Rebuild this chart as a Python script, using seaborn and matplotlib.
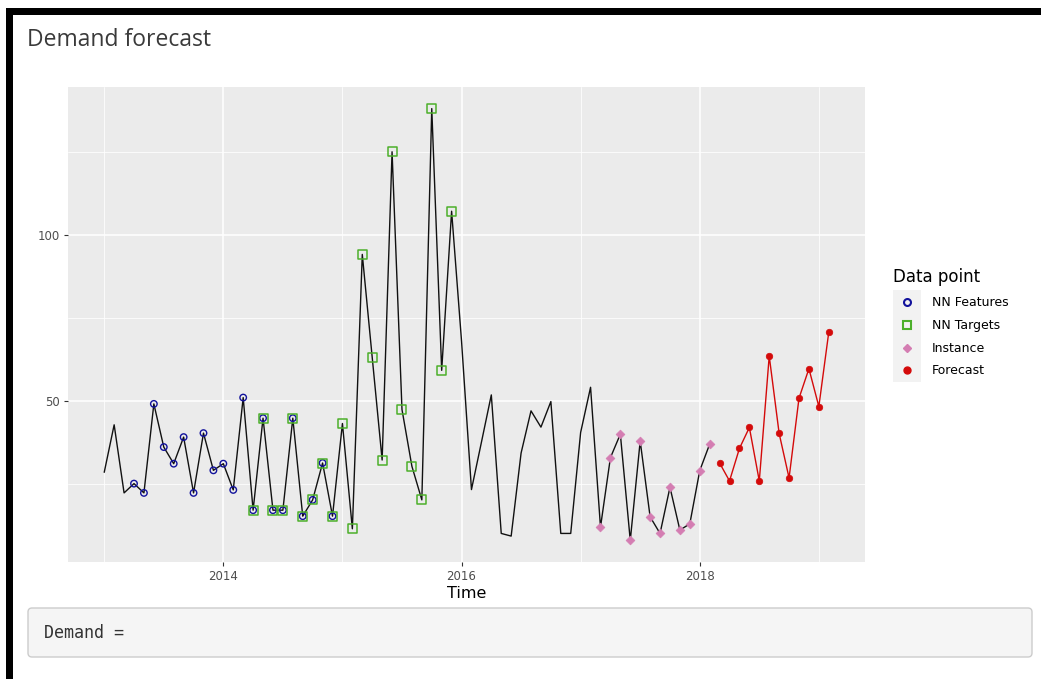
import numpy as np
import pandas as pd
import matplotlib
matplotlib.use("Agg")
import matplotlib.pyplot as plt
from matplotlib.patches import FancyBboxPatch, Rectangle
from matplotlib.lines import Line2D
import seaborn as sns

# Monthly demand, Jan 2013 - Feb 2018
start_year = 2013
demand = [
    28.5, 42.8, 22.3, 25.1, 22.3, 49.1, 36.1, 31.1, 39.1, 22.3, 40.3, 29.1,   # 2013
    31.1, 23.2, 51.0, 17.1, 44.8, 17.1, 17.1, 44.8, 15.3, 20.2, 31.3, 15.3,   # 2014
    43.2, 11.5, 94.1, 63.1, 32.2, 125.0, 47.4, 30.3, 20.2, 138.0, 59.2, 107.1,  # 2015
    68.0, 23.3, 37.5, 51.8, 10.1, 9.3, 34.3, 47.0, 42.1, 49.8, 10.1, 10.1,    # 2016
    40.5, 54.1, 12.0, 32.9, 40.0, 8.0, 37.9, 15.1, 10.1, 24.0, 11.1, 13.0,    # 2017
    29.0, 37.0,                                                                # 2018
]
# Forecast, Mar 2018 - Feb 2019
forecast = [31.3, 25.9, 35.7, 42.0, 25.9, 63.5, 40.2, 26.8, 50.8, 59.7, 48.3, 70.7]

# Positions (month index into `demand`) of the highlighted points
feature_months = list(range(3, 24))     # Apr 2013 - Dec 2014
target_months = list(range(15, 36))     # Apr 2014 - Dec 2015
instance_months = list(range(50, 62))   # Mar 2017 - Feb 2018

legend_labels = ["NN Features", "NN Targets", "Instance", "Forecast"]
x_ticks = [2014, 2016, 2018]
y_ticks = [50, 100]

C_FEAT = "#12129c"
C_TARG = "#4caf2a"
C_INST = "#d47db2"
C_FCST = "#d40a0a"

W, H = 1041, 679
sns.set_theme(style="darkgrid")
plt.rcParams["font.family"] = ["DejaVu Sans"]

fig = plt.figure(figsize=(W / 100, H / 100), dpi=100, facecolor="white")

# page decoration layer in pixel coordinates
deco = fig.add_axes([0, 0, 1, 1], zorder=0)
deco.set_xlim(0, W)
deco.set_ylim(H, 0)
deco.axis("off")
deco.add_patch(Rectangle((6, 8), W - 6, 7, color="black", lw=0))
deco.add_patch(Rectangle((6, 8), 7, H - 8, color="black", lw=0))
deco.text(27, 40, "Demand forecast", fontsize=16.5, color="#3a3a3a",
          family="Open Sans", va="center", ha="left")
deco.add_patch(FancyBboxPatch((28, 608), 1004, 49,
                              boxstyle="round,pad=0,rounding_size=4",
                              facecolor="#f5f5f5", edgecolor="#cccccc", lw=1))
deco.text(44, 633, "Demand =", fontsize=12, family="DejaVu Sans Mono",
          color="#333333", va="center", ha="left")

# plotting panel
px0, px1, py0, py1 = 68, 865, 87, 562
ax = fig.add_axes([px0 / W, 1 - py1 / H, (px1 - px0) / W, (py1 - py0) / H], zorder=1)
ax.set_facecolor("#ebebeb")

t_obs = start_year + np.arange(len(demand)) / 12
t_fc = start_year + (len(demand) + np.arange(len(forecast))) / 12
obs = pd.DataFrame({"Time": t_obs, "Demand": demand})
fc = pd.DataFrame({"Time": t_fc, "Demand": forecast})

sns.lineplot(data=obs, x="Time", y="Demand", color="#111111", lw=1.0, ax=ax, zorder=3)
sns.lineplot(data=fc, x="Time", y="Demand", color=C_FCST, lw=1.0, ax=ax, zorder=3)

feat = obs.iloc[feature_months]
targ = obs.iloc[target_months]
inst = obs.iloc[instance_months]

sns.scatterplot(data=feat, x="Time", y="Demand", marker="o", s=22, ax=ax,
                color=C_FEAT, zorder=4)
ax.collections[-1].set_facecolor("none")
ax.collections[-1].set_edgecolor(C_FEAT)
ax.collections[-1].set_linewidth(1.0)

sns.scatterplot(data=targ, x="Time", y="Demand", marker="s", s=42, ax=ax,
                color=C_TARG, zorder=4)
ax.collections[-1].set_facecolor("none")
ax.collections[-1].set_edgecolor(C_TARG)
ax.collections[-1].set_linewidth(1.1)

sns.scatterplot(data=inst, x="Time", y="Demand", marker="D", s=20, ax=ax,
                color=C_INST, edgecolor=C_INST, linewidth=0.5, zorder=4)
sns.scatterplot(data=fc, x="Time", y="Demand", marker="o", s=22, ax=ax,
                color=C_FCST, edgecolor=C_FCST, linewidth=0.5, zorder=4)

# ggplot-like 5% expansion of the data range
all_t = np.concatenate([t_obs, t_fc])
all_y = np.concatenate([demand, forecast])
tr = all_t.max() - all_t.min()
yr = all_y.max() - all_y.min()
ax.set_xlim(all_t.min() - 0.05 * tr, all_t.max() + 0.05 * tr)
ax.set_ylim(all_y.min() - 0.05 * yr, all_y.max() + 0.05 * yr)

ax.set_xticks(x_ticks)
ax.set_xticklabels([str(v) for v in x_ticks])
ax.set_yticks(y_ticks)
ax.set_yticklabels([str(v) for v in y_ticks])
ax.set_xticks([2013, 2015, 2017, 2019], minor=True)
ax.set_yticks([25, 75, 125], minor=True)
ax.grid(which="major", color="white", lw=1.1)
ax.grid(which="minor", color="white", lw=0.55)
ax.set_axisbelow(True)
for s in ax.spines.values():
    s.set_visible(False)
ax.tick_params(which="major", length=3, width=0.8, color="#333333",
               labelsize=8.5, labelcolor="#4d4d4d", pad=3)
ax.tick_params(which="minor", length=0)
ax.tick_params(axis="both", which="major", bottom=True, left=True)
ax.set_ylabel("")
ax.set_xlabel("Time", fontsize=11.5, color="black", labelpad=2)

# legend, drawn in pixel coordinates on the decoration layer
deco.text(893, 277, "Data point", fontsize=12, color="black", va="center", ha="left")
deco.add_patch(Rectangle((893, 290), 28, 92, facecolor="#f2f2f2", lw=0))
key_y = [302, 325, 348, 370]
key_styles = [
    dict(marker="o", mfc="none", mec=C_FEAT, ms=5, mew=1.5),
    dict(marker="s", mfc="none", mec=C_TARG, ms=6, mew=1.5),
    dict(marker="D", mfc=C_INST, mec=C_INST, ms=4),
    dict(marker="o", mfc=C_FCST, mec=C_FCST, ms=5),
]
for yk, lab, st in zip(key_y, legend_labels, key_styles):
    deco.add_line(Line2D([907], [yk], ls="none", **st))
    deco.text(932, yk, lab, fontsize=9, color="black", va="center", ha="left")

fig.savefig("out.png", dpi=100, facecolor="white")
